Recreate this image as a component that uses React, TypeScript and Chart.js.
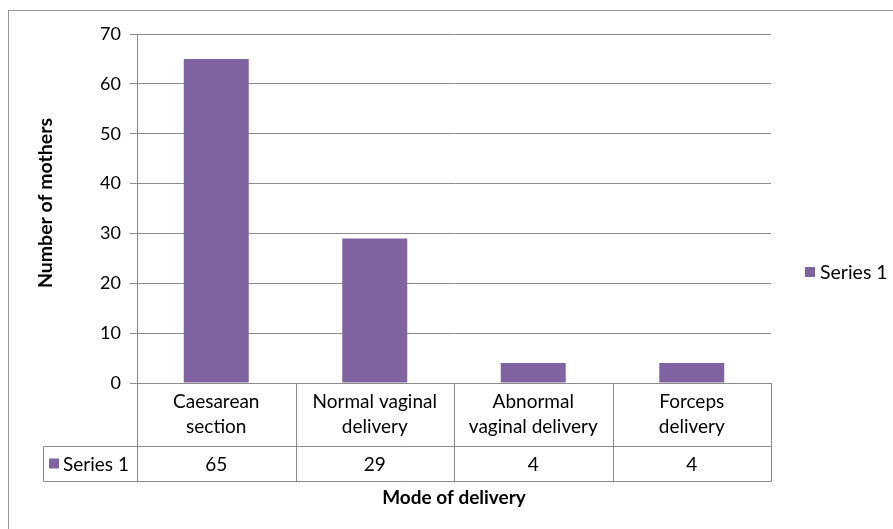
import React, { useEffect, useRef } from "react";
import { Chart, registerables } from "chart.js";
Chart.register(...registerables);

const categories: string[][] = [
  ["Caesarean", "section"],
  ["Normal vaginal", "delivery"],
  ["Abnormal", "vaginal delivery"],
  ["Forceps", "delivery"],
];
const seriesName = "Series 1";
const values = [65, 29, 4, 4];
const yMin = 0;
const yMax = 70;
const yStep = 10;
const yTitle = "Number of mothers";
const xTitle = "Mode of delivery";

const FONT = "Lato, 'Open Sans', sans-serif";
const BAR = "#8064A2";
const LINE = "#8c8c8c";
const TEXT = "#000";

const W = 893;
const H = 529;

const customPlugin = {
  id: "excelTable",
  afterDraw(chart: any) {
    const ctx = chart.ctx as CanvasRenderingContext2D;
    const { left, right, top, bottom } = chart.chartArea;
    const x = chart.scales.x;
    const n = categories.length;
    const colW = (right - left) / n;
    const row1 = bottom + 63;
    const row2 = row1 + 35;
    const tableLeft = 43;

    ctx.save();
    // outer border
    ctx.strokeStyle = "#9a9a9a";
    ctx.lineWidth = 1;
    ctx.strokeRect(8.5, 10.5, W + 20, H + 20);

    ctx.strokeStyle = LINE;
    ctx.beginPath();
    const ax = Math.round(left) + 0.5;
    ctx.moveTo(ax, bottom);
    ctx.lineTo(ax, row2 + 0.5);
    for (let i = 1; i <= n; i++) {
      const cx = Math.round(left + colW * i) + 0.5;
      ctx.moveTo(cx, bottom);
      ctx.lineTo(cx, row2 + 0.5);
    }
    ctx.moveTo(tableLeft + 0.5, Math.round(row1) + 0.5);
    ctx.lineTo(Math.round(right) + 0.5, Math.round(row1) + 0.5);
    ctx.moveTo(tableLeft + 0.5, Math.round(row2) + 0.5);
    ctx.lineTo(Math.round(right) + 0.5, Math.round(row2) + 0.5);
    ctx.moveTo(tableLeft + 0.5, Math.round(row1) + 0.5);
    ctx.lineTo(tableLeft + 0.5, Math.round(row2) + 0.5);
    ctx.stroke();

    // category labels
    ctx.fillStyle = TEXT;
    ctx.font = `19px ${FONT}`;
    ctx.textAlign = "center";
    ctx.textBaseline = "middle";
    categories.forEach((lines, i) => {
      const cx = x.getPixelForValue(i);
      ctx.fillText(lines[0], cx, bottom + 19);
      ctx.fillText(lines[1], cx, bottom + 44);
    });
    values.forEach((v, i) => {
      const cx = x.getPixelForValue(i);
      ctx.fillText(String(v), cx, (row1 + row2) / 2 + 1);
    });
    // series cell legend
    ctx.fillStyle = BAR;
    const my = (row1 + row2) / 2;
    ctx.fillRect(49, my - 5, 10, 10);
    ctx.fillStyle = TEXT;
    ctx.textAlign = "left";
    ctx.fillText(seriesName, 63, my + 1);

    // right legend
    ctx.fillStyle = BAR;
    ctx.fillRect(805, 267, 10, 10);
    ctx.fillStyle = TEXT;
    ctx.font = `19.5px ${FONT}`;
    ctx.fillText(seriesName, 820, 273);

    // x title
    ctx.font = `bold 19px ${FONT}`;
    ctx.textAlign = "center";
    ctx.fillText(xTitle, (left + right) / 2, row2 + 17);

    // y title
    ctx.save();
    ctx.font = `bold 19.5px ${FONT}`;
    ctx.translate(46, 203);
    ctx.rotate(-Math.PI / 2);
    ctx.fillText(yTitle, 0, 0);
    ctx.restore();

    ctx.restore();
  },
};

export default function App() {
  const ref = useRef<HTMLCanvasElement>(null);
  useEffect(() => {
    const canvas = ref.current!;
    const chart = new Chart(canvas, {
      type: "bar",
      data: {
        labels: categories.map((c) => c.join(" ")),
        datasets: [
          {
            label: seriesName,
            data: values,
            backgroundColor: BAR,
            borderWidth: 0,
            barPercentage: 0.41,
            categoryPercentage: 1,
          },
        ],
      },
      options: {
        responsive: false,
        animation: false,
        devicePixelRatio: 1,
        layout: { padding: { left: 0, top: 34, right: 122, bottom: 146 } },
        plugins: {
          legend: { display: false },
          tooltip: { enabled: false },
        },
        scales: {
          x: { display: false },
          y: {
            min: yMin,
            max: yMax,
            afterFit: (s: any) => {
              s.width = 137;
            },
            ticks: {
              stepSize: yStep,
              color: TEXT,
              padding: 9,
              font: { family: FONT, size: 18 },
            },
            grid: { color: LINE, tickLength: 7, drawTicks: true },
            border: { display: true, color: LINE },
          },
        },
      },
      plugins: [customPlugin],
    });
    return () => chart.destroy();
  }, []);
  return (
    <div style={{ position: "fixed", left: 0, top: 0, width: W, height: H, background: "#fff" }}>
      <canvas ref={ref} width={W} height={H} style={{ display: "block" }} />
    </div>
  );
}
